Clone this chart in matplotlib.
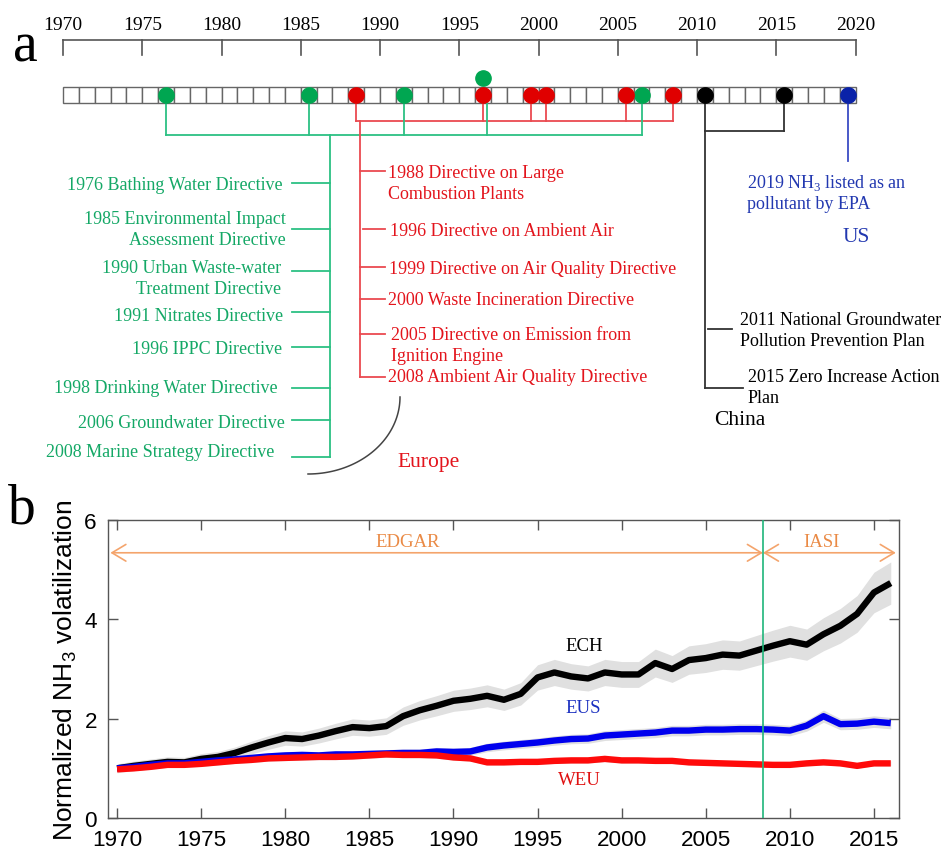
import numpy as np
import matplotlib.pyplot as plt
from matplotlib.patches import Rectangle

# ---------------- data ----------------
# panel a: timeline events (year of the policy)
green_years = [1976, 1985, 1991, 2006]       # EU water directives on the bar
green_raised = [1996]                         # green dot drawn above the bar
red_years = [1988, 1996, 1999, 2000, 2005, 2008]
black_years = [2010, 2015]
blue_years = [2019]

green_labels = ["1976 Bathing Water Directive",
                "1985 Environmental Impact\nAssessment Directive",
                "1990 Urban Waste-water\nTreatment Directive",
                "1991 Nitrates Directive",
                "1996 IPPC Directive",
                "1998 Drinking Water Directive",
                "2006 Groundwater Directive",
                "2008 Marine Strategy Directive"]
red_labels = ["1988 Directive on Large\nCombustion Plants",
              "1996 Directive on Ambient Air",
              "1999 Directive on Air Quality Directive",
              "2000 Waste Incineration Directive",
              "2005 Directive on Emission from\nIgnition Engine",
              "2008 Ambient Air Quality Directive"]
china_labels = ["2011 National Groundwater\nPollution Prevention Plan",
                "2015 Zero Increase Action\nPlan"]
us_label = "2019 NH$_\\mathregular{3}$ listed as an\npollutant by EPA"

# panel b: normalized NH3 volatilization
years = np.arange(1970, 2017)
ech = [1.00, 1.05, 1.09, 1.13, 1.12, 1.19, 1.23, 1.31, 1.42, 1.52,
       1.61, 1.59, 1.66, 1.75, 1.83, 1.81, 1.85, 2.05, 2.17, 2.26,
       2.36, 2.40, 2.46, 2.38, 2.50, 2.83, 2.93, 2.85, 2.81, 2.93,
       2.89, 2.89, 3.12, 3.00, 3.18, 3.22, 3.29, 3.27, 3.37, 3.47,
       3.56, 3.49, 3.70, 3.87, 4.11, 4.54, 4.73]
eus = [1.00, 1.03, 1.07, 1.10, 1.10, 1.13, 1.16, 1.18, 1.21, 1.24,
       1.26, 1.27, 1.26, 1.28, 1.28, 1.29, 1.30, 1.31, 1.31, 1.34,
       1.33, 1.34, 1.42, 1.46, 1.49, 1.52, 1.56, 1.59, 1.60, 1.66,
       1.68, 1.70, 1.72, 1.76, 1.76, 1.78, 1.78, 1.79, 1.79, 1.78,
       1.76, 1.86, 2.05, 1.89, 1.90, 1.94, 1.91]
weu = [0.98, 1.00, 1.03, 1.07, 1.07, 1.09, 1.12, 1.15, 1.17, 1.20,
       1.21, 1.22, 1.23, 1.23, 1.24, 1.26, 1.28, 1.27, 1.27, 1.26,
       1.22, 1.20, 1.12, 1.12, 1.13, 1.13, 1.15, 1.16, 1.16, 1.19,
       1.16, 1.16, 1.15, 1.15, 1.12, 1.11, 1.10, 1.09, 1.08, 1.07,
       1.07, 1.10, 1.12, 1.10, 1.05, 1.10, 1.10]
# relative uncertainty (grey envelopes)
spread = {"ECH": 0.09, "EUS": 0.06, "WEU": 0.045}
split_year = 2008.4   # EDGAR -> IASI

# ---------------- colours ----------------
G_TXT, G_LN, G_DOT = "#14a866", "#2cc083", "#00a651"
R_TXT, R_LN, R_DOT = "#e3141c", "#ea4a50", "#e00000"
K_LN = "#333333"
B_TXT, B_LN, B_DOT = "#2238b0", "#3a4cc4", "#0a22a8"
ORANGE = "#f4a46c"

serif = "Liberation Serif"
sans = "Liberation Sans"
FS = 13

fig = plt.figure(figsize=(9.41, 8.53), dpi=100)

# ================= panel a =================
# x axis in years, y axis in pixel rows of the top half
X0, PPY = 63, 15.85
def yr(px):
    return 1970 + (px - X0) / PPY

axa = fig.add_axes([0, 1 - 480 / 853, 1, 480 / 853])
axa.set_xlim(yr(0), yr(941))
axa.set_ylim(480, 0)
axa.axis("off")

# scale bar on top
axa.plot([1970, 2020], [41, 41], color="#555555", lw=1.2)
for t in range(1970, 2021, 5):
    axa.plot([t, t], [41, 56], color="#555555", lw=1.2)
    axa.text(t, 26, str(t), ha="center", va="center", fontsize=14,
             family=serif)

# year boxes
for y in range(1970, 2020):
    axa.add_patch(Rectangle((y, 88), 1, 16, fc="white", ec="#666666", lw=1))

def dots(ax, yrs, row, color):
    ax.plot(np.array(yrs) + 0.5, [row] * len(yrs), "o", ms=11, color=color,
            mec=color, zorder=5)

# green connectors
gx = np.array(green_years) + 0.5
for x in gx:
    axa.plot([x, x], [97, 136], color=G_LN, lw=1.3, zorder=3)
axa.plot([green_raised[0] + 0.75] * 2, [104, 136], color=G_LN, lw=1.3, zorder=3)
axa.plot([gx.min(), gx.max()], [136, 136], color=G_LN, lw=1.3)
g_trunk = yr(330)
g_rows = [184, 230, 272, 313, 348, 389, 421, 458]
g_text_y = [186, 230, 279, 317, 350, 389, 424, 453]
g_text_x = [283, 286, 281, 283, 282, 278, 285, 274]
axa.plot([g_trunk, g_trunk], [136, g_rows[-1]], color=G_LN, lw=1.3)
for r, ty, tx, lab in zip(g_rows, g_text_y, g_text_x, green_labels):
    axa.plot([yr(292), g_trunk], [r, r], color=G_LN, lw=1.3)
    axa.text(yr(tx), ty, lab, ha="right", va="center", color=G_TXT,
             fontsize=FS, family=serif, multialignment="right",
             linespacing=1.3)

# red connectors
rx = np.array(red_years) + 0.5
for x in rx:
    axa.plot([x, x], [97, 122], color=R_LN, lw=1.3, zorder=3)
axa.plot([rx.min(), rx.max()], [122, 122], color=R_LN, lw=1.3)
r_trunk = yr(360)
r_rows = [172, 230, 268, 300, 335, 378]
r_text_y = [184, 232, 270, 301, 346, 378]
r_text_x = [388, 390, 389, 388, 391, 388]
axa.plot([r_trunk, r_trunk], [122, r_rows[-1]], color=R_LN, lw=1.3)
for r, ty, tx, lab in zip(r_rows, r_text_y, r_text_x, red_labels):
    start = yr(363) if r == 230 else r_trunk
    axa.plot([start, yr(385)], [r, r], color=R_LN, lw=1.3)
    axa.text(yr(tx), ty, lab, ha="left", va="center", color=R_TXT,
             fontsize=FS, family=serif, linespacing=1.3)

# black (China) connectors
kx = np.array(black_years) + 0.5
for x in kx:
    axa.plot([x, x], [97, 132], color=K_LN, lw=1.3, zorder=3)
axa.plot([kx.min(), kx.max()], [132, 132], color=K_LN, lw=1.3)
axa.plot([kx.min(), kx.min()], [132, 389], color=K_LN, lw=1.3)
axa.plot([yr(708), yr(732)], [330, 330], color=K_LN, lw=1.3)
axa.plot([kx.min(), yr(743)], [389, 389], color=K_LN, lw=1.3)
axa.text(yr(740), 331, china_labels[0], ha="left", va="center", fontsize=FS,
         family=serif, linespacing=1.3)
axa.text(yr(748), 388, china_labels[1], ha="left", va="center", fontsize=FS,
         family=serif, linespacing=1.3)
axa.text(yr(714), 421, "China", ha="left", va="center", fontsize=15.5,
         family=serif)

# blue (US)
bx = np.array(blue_years) + 0.5
axa.plot([bx[0], bx[0]], [97, 162], color=B_LN, lw=1.3, zorder=3)
axa.text(yr(747), 193, us_label, ha="left", va="center", color=B_TXT,
         fontsize=FS, family=serif, linespacing=1.3)
axa.text(yr(856), 237, "US", ha="center", va="center", color=B_TXT,
         fontsize=15.5, family=serif)

dots(axa, green_years, 96, G_DOT)
dots(axa, green_raised, 79, G_DOT)
dots(axa, red_years, 96, R_DOT)
dots(axa, black_years, 96, "black")
dots(axa, blue_years, 96, B_DOT)

# Europe bracket
t = np.linspace(0, np.pi / 2, 60)
axa.plot(yr(308) + (92 / PPY) * np.cos(t), 398 + 77 * np.sin(t),
         color="#444444", lw=1.1)
axa.text(yr(397), 463, "Europe", ha="left", va="center", color=R_TXT,
         fontsize=15.5, family=serif)

axa.text(yr(25), 47, "a", ha="center", va="center", fontsize=40, family=serif)

# ================= panel b =================
axb = fig.add_axes([108 / 941, 34 / 853, 791 / 941, 298 / 853])
series = [("ECH", ech, "black", 3), ("EUS", eus, "#0000ee", 4),
          ("WEU", weu, "#ff0a0a", 5)]
for name, vals, col, z in series:
    v = np.array(vals)
    axb.fill_between(years, v * (1 - spread[name]), v * (1 + spread[name]),
                     color="#e0e0e0", lw=0, zorder=1)
for name, vals, col, z in series:
    axb.plot(years, vals, color=col, lw=4.6, zorder=z, solid_capstyle="butt")

axb.axvline(split_year, color="#1fb57a", lw=1.2, zorder=6)
for a, b in [(1969.6, split_year), (split_year, 2016.3)]:
    axb.annotate("", xy=(a, 5.34), xytext=(b, 5.34),
                 arrowprops=dict(arrowstyle="<->,head_length=0.5,head_width=0.3",
                                 color=ORANGE, lw=1.2, mutation_scale=20,
                                 shrinkA=0, shrinkB=0))
axb.text(1987.3, 5.57, "EDGAR", ha="center", va="center", color="#ea8a45",
         fontsize=13.5, family=serif)
axb.text(2011.9, 5.57, "IASI", ha="center", va="center", color="#ea8a45",
         fontsize=13.5, family=serif)
axb.text(1997.8, 3.48, "ECH", ha="center", va="center", color="black",
         fontsize=13.5, family=serif)
axb.text(1997.7, 2.23, "EUS", ha="center", va="center", color="#1a2fc0",
         fontsize=13.5, family=serif)
axb.text(1997.5, 0.77, "WEU", ha="center", va="center", color="#e01010",
         fontsize=13.5, family=serif)

axb.set_xlim(1969.46, 2016.49)
axb.set_ylim(0, 6)
axb.set_xticks(range(1970, 2016, 5))
axb.set_yticks([0, 2, 4, 6])
axb.tick_params(direction="in", top=True, right=True, length=7, width=1,
                color="#555555", labelsize=16.2)
axb.tick_params(axis="x", pad=8)
axb.tick_params(axis="y", pad=8)
for lab in axb.get_xticklabels() + axb.get_yticklabels():
    lab.set_family(sans)
for s in axb.spines.values():
    s.set_color("#555555")
    s.set_linewidth(1)
axb.set_ylabel("Normalized NH$_\\mathregular{3}$ volatilization", fontsize=19,
               family=sans, labelpad=4)

fig.text(22 / 941, 1 - 510 / 853, "b", ha="center", va="center", fontsize=40,
         family=serif)

fig.savefig("out.png", dpi=100)
